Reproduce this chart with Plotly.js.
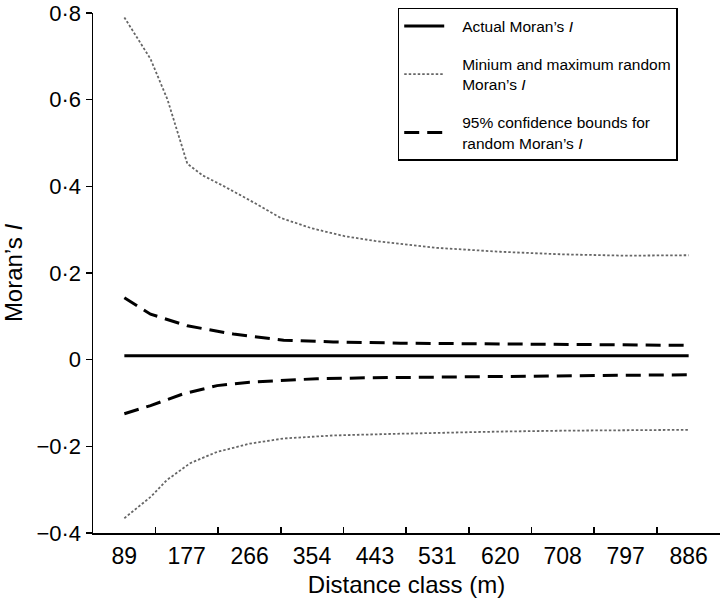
<!DOCTYPE html>
<html>
<head>
<meta charset="utf-8">
<script src="https://cdn.plot.ly/plotly-3.0.1.min.js"></script>
<style>html,body{margin:0;padding:0;background:#fff;}#chart{width:720px;height:602px;}</style>
</head>
<body>
<div id="chart"></div>
<script>
// Distance classes (m) and their tick labels
const classes = [89, 177, 266, 354, 443, 531, 620, 708, 797, 886];
const classLabels = ['89', '177', '266', '354', '443', '531', '620', '708', '797', '886'];

// Actual Moran's I at each distance class
const actualI = [0.009, 0.009, 0.009, 0.009, 0.009, 0.009, 0.009, 0.009, 0.009, 0.009];

// Maximum random Moran's I
const maxX = [89, 126, 150, 168, 178, 200, 230, 266, 310, 354, 400, 443, 531, 620, 708, 797, 886];
const maxI = [0.79, 0.694, 0.60, 0.503, 0.452, 0.425, 0.400, 0.368, 0.327, 0.303, 0.285, 0.274, 0.258, 0.249, 0.243, 0.240, 0.241];

// Minimum random Moran's I
const minX = [89, 126, 149, 182, 220, 266, 314, 384, 479, 531, 620, 708, 797, 886];
const minI = [-0.366, -0.317, -0.278, -0.239, -0.213, -0.194, -0.182, -0.175, -0.171, -0.169, -0.166, -0.164, -0.163, -0.162];

// Upper 95% confidence bound
const upX = [89, 126, 178, 243, 314, 384, 479, 620, 797, 886];
const upI = [0.143, 0.105, 0.078, 0.059, 0.045, 0.041, 0.038, 0.036, 0.034, 0.033];

// Lower 95% confidence bound
const loX = [89, 126, 172, 220, 266, 314, 361, 432, 479, 620, 797, 886];
const loI = [-0.125, -0.106, -0.079, -0.060, -0.052, -0.048, -0.044, -0.042, -0.041, -0.038, -0.036, -0.035];

// Y tick labels
const yVals = [-0.4, -0.2, 0, 0.2, 0.4, 0.6, 0.8];
const yLabels = ['\u22120\u00b74', '\u22120\u00b72', '0', '0\u00b72', '0\u00b74', '0\u00b76', '0\u00b78'];

const step = (classes[classes.length - 1] - classes[0]) / (classes.length - 1);
const xRange = [classes[0] - step / 2, classes[classes.length - 1] + step / 2];
const bounds = [xRange[0]];
for (let i = 0; i < classes.length - 1; i++) bounds.push((classes[i] + classes[i + 1]) / 2);
bounds.push(xRange[1]);

const pad = '\u00a0\u00a0\u00a0';
const grey = '#666666';
const dotted = {color: grey, width: 1.8, dash: '2.5px,2px'};
const dashed = {color: '#000', width: 3, dash: '15px,8px'};
const traces = [
  {x: classes, y: actualI, mode: 'lines', name: pad + 'Actual Moran\u2019s <i>I</i>', legendgroup: 'a',
   line: {color: '#000', width: 3}},
  {x: maxX, y: maxI, mode: 'lines', name: pad + 'Minium and maximum random<br>' + pad + 'Moran\u2019s <i>I</i>', legendgroup: 'b',
   line: dotted},
  {x: minX, y: minI, mode: 'lines', name: 'min', legendgroup: 'b', showlegend: false, line: dotted},
  {x: upX, y: upI, mode: 'lines', name: pad + '95% confidence bounds for<br>' + pad + 'random Moran\u2019s <i>I</i>', legendgroup: 'c',
   line: dashed},
  {x: loX, y: loI, mode: 'lines', name: 'lower', legendgroup: 'c', showlegend: false, line: dashed},
  // invisible trace to carry the boundary-tick axis
  {x: xRange, y: [0, 0], xaxis: 'x2', mode: 'lines', line: {width: 0}, showlegend: false, hoverinfo: 'skip'}
];

const font = {family: 'Liberation Sans, Arial, sans-serif', color: '#000'};
const layout = {
  width: 720, height: 602,
  margin: {l: 93, r: 0, t: 13, b: 69},
  paper_bgcolor: '#fff', plot_bgcolor: '#fff',
  font: font,
  showlegend: true,
  xaxis: {
    range: xRange, tickmode: 'array', tickvals: classes, ticktext: classLabels,
    ticks: '', showgrid: false, zeroline: false,
    showline: true, linecolor: '#000', linewidth: 1.5,
    tickfont: {size: 23, family: font.family, color: '#000'},
    ticklabelstandoff: 2, ticklabeloverflow: 'allow',
    title: {text: 'Distance class (m)', font: {size: 24, family: font.family, color: '#000'}, standoff: 8}
  },
  xaxis2: {
    overlaying: 'x', range: xRange, tickmode: 'array', tickvals: bounds,
    ticks: 'inside', ticklen: 6, tickwidth: 1.5, tickcolor: '#000',
    showticklabels: false, showgrid: false, zeroline: false, showline: false,
    anchor: 'y', side: 'bottom'
  },
  yaxis: {
    range: [-0.4002, 0.8002], tickmode: 'array', tickvals: yVals, ticktext: yLabels,
    ticks: 'outside', ticklen: 6, tickwidth: 1.5, tickcolor: '#000',
    showgrid: false, zeroline: false,
    showline: true, linecolor: '#000', linewidth: 1.5,
    tickfont: {size: 22, family: font.family, color: '#000'},
    ticklabeloverflow: 'allow',
    title: {text: 'Moran\u2019s <i>I</i>', font: {size: 24, family: font.family, color: '#000'}, standoff: 8}
  },
  legend: {
    x: 0.486, xanchor: 'left', y: 1.01, yanchor: 'top',
    bgcolor: '#fff', bordercolor: '#000', borderwidth: 1.5,
    font: {size: 15.5, family: font.family, color: '#000'},
    tracegroupgap: 15, itemwidth: 40
  }
};

Plotly.newPlot('chart', traces, layout, {displayModeBar: false, staticPlot: true});
</script>
</body>
</html>
